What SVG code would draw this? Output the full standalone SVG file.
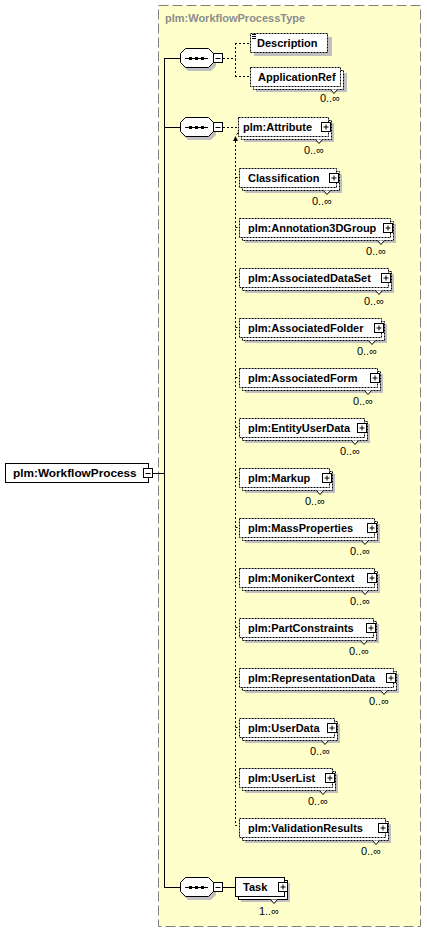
<svg xmlns="http://www.w3.org/2000/svg" width="427" height="933" viewBox="0 0 427 933">
<style>
.nm{font-family:"Liberation Sans",Arial,sans-serif;font-weight:bold;font-size:11px;fill:#000}
.ttl{font-family:"Liberation Sans",Arial,sans-serif;font-weight:bold;font-size:11px;fill:#8c8c8c}
.mu{font-family:"Liberation Sans",Arial,sans-serif;font-size:11px;fill:#000;text-anchor:end}
.sh{fill:#c0c0c0;stroke:none}
.fr{fill:#fff;stroke:#000;stroke-width:1;stroke-dasharray:2,1}
.fs{fill:#fff;stroke:#000;stroke-width:1}
.pb{fill:#fff;stroke:#000;stroke-width:1}
.ln{fill:none;stroke:#000;stroke-width:1}
.dl{fill:none;stroke:#000;stroke-width:1;stroke-dasharray:2,2}
.vn{fill:#fff;stroke:#000;stroke-width:1}
</style>
<defs>
<g id="seq">
<polygon class="sh" points="188,51 211,51 216,56 216,66 211,71 188,71 183,66 183,56"/>
<polygon class="fs" points="185.5,48.5 208.5,48.5 213.5,53.5 213.5,62.5 208.5,67.5 185.5,67.5 180.5,62.5 180.5,53.5"/>
<path class="ln" d="M185,58.5 H208"/>
<rect x="189" y="57" width="3" height="3" fill="#000"/>
<rect x="195" y="57" width="3" height="3" fill="#000"/>
<rect x="201" y="57" width="3" height="3" fill="#000"/>
<rect class="pb" x="213.5" y="53.5" width="9" height="9"/>
<path class="ln" d="M215.5,58.5 H220.5"/>
</g>
</defs>

<!-- outer type box -->
<g id="type-box">
<rect x="158.5" y="5.5" width="262" height="921" fill="#ffffcc" stroke="#808080" stroke-width="1" stroke-dasharray="10,4"/>
<text class="ttl" x="165" y="22">plm:WorkflowProcessType</text>
</g>

<!-- connectors -->
<g id="connectors">
<path class="ln" d="M153,473.5 H164.5 M164.5,58 V888 M164,58.5 H181 M164,127.5 H181 M164,887.5 H181 M223,887.5 H236"/>
<path class="dl" d="M223,58.5 H235.5 M235.5,43 V77 M235,43.5 H250 M235,76.5 H250"/>
<path class="dl" d="M223,127.5 H238"/>
<path class="dl" d="M235.5,141 V825.5 H239"/>
<path d="M235.5,136 l-2.5,5 h5 z" fill="#000"/>
<path class="ln" d="M236.5,134.5 L240,131"/>
<path d="M241,130 l-3.5,0.8 l2.7,2.7 z" fill="#000"/>
<path class="dl" d="M235.5,177.5 H239 M235.5,227.5 H239 M235.5,277.5 H239 M235.5,327.5 H239 M235.5,377.5 H239 M235.5,427.5 H239 M235.5,477.5 H239 M235.5,527.5 H239 M235.5,577.5 H239 M235.5,627.5 H239 M235.5,677.5 H239 M235.5,727.5 H239 M235.5,777.5 H239"/>
</g>

<!-- compositors -->
<g id="seq-1"><use href="#seq"/></g>
<g id="seq-2"><use href="#seq" transform="translate(0,69)"/></g>
<g id="seq-3"><use href="#seq" transform="translate(0,829)"/></g>

<!-- root element -->
<g id="n-WorkflowProcess">
<rect class="fs" x="5.5" y="463.5" width="143" height="19"/>
<text class="nm" x="13" y="477" style="font-size:11.8px">plm:WorkflowProcess</text>
<rect class="pb" x="143.5" y="468.5" width="9" height="9"/>
<path class="ln" d="M145.5,473.5 H150.5"/>
</g>

<g id="n-Description">
<rect class="sh" x="254" y="37" width="78" height="19"/>
<rect class="fr" x="250.5" y="33.5" width="77" height="19"/>
<path class="ln" d="M252,34.5 H256 M252,36.5 H256 M252,38.5 H256"/>
<text class="nm" x="257" y="47">Description</text>
</g>

<g id="n-ApplicationRef">
<rect class="sh" x="256" y="73" width="91" height="19"/>
<rect class="fr" x="253.5" y="70.5" width="90" height="19"/>
<rect class="fr" x="250.5" y="67.5" width="90" height="19"/>
<text class="nm" x="258" y="81">ApplicationRef</text>
<path class="vn" d="M330.5,89.5 l3.5,4 l3.5,-4"/>
<text class="mu" x="340" y="102">0..∞</text>
</g>

<g id="n-Attribute">
<rect class="sh" x="244" y="123" width="90" height="19"/>
<rect class="fr" x="241.5" y="120.5" width="90" height="19"/>
<rect class="fr" x="238.5" y="117.5" width="90" height="19"/>
<text class="nm" x="243" y="131">plm:Attribute</text>
<rect class="pb" x="321.5" y="122.5" width="9" height="9"/>
<path class="ln" d="M323.5,127 H328.5 M326,124.5 V129.5"/>
<path class="vn" d="M315.5,139.5 l3.5,4 l3.5,-4"/>
<text class="mu" x="324" y="154">0..∞</text>
</g>

<g id="n-Classification">
<rect class="sh" x="245" y="174" width="97" height="19"/>
<rect class="fr" x="242.5" y="171.5" width="97" height="19"/>
<rect class="fr" x="239.5" y="168.5" width="97" height="19"/>
<text class="nm" x="248" y="182">Classification</text>
<rect class="pb" x="329.5" y="173.5" width="9" height="9"/>
<path class="ln" d="M331.5,178 H336.5 M334,175.5 V180.5"/>
<path class="vn" d="M323.5,190.5 l3.5,4 l3.5,-4"/>
<text class="mu" x="332" y="205">0..∞</text>
</g>

<g id="n-Annotation3DGroup">
<rect class="sh" x="245" y="224" width="151" height="19"/>
<rect class="fr" x="242.5" y="221.5" width="151" height="19"/>
<rect class="fr" x="239.5" y="218.5" width="151" height="19"/>
<text class="nm" x="248" y="232">plm:Annotation3DGroup</text>
<rect class="pb" x="383.5" y="223.5" width="9" height="9"/>
<path class="ln" d="M385.5,228 H390.5 M388,225.5 V230.5"/>
<path class="vn" d="M377.5,240.5 l3.5,4 l3.5,-4"/>
<text class="mu" x="386" y="255">0..∞</text>
</g>

<g id="n-AssociatedDataSet">
<rect class="sh" x="245" y="274" width="149" height="19"/>
<rect class="fr" x="242.5" y="271.5" width="149" height="19"/>
<rect class="fr" x="239.5" y="268.5" width="149" height="19"/>
<text class="nm" x="248" y="282">plm:AssociatedDataSet</text>
<rect class="pb" x="381.5" y="273.5" width="9" height="9"/>
<path class="ln" d="M383.5,278 H388.5 M386,275.5 V280.5"/>
<path class="vn" d="M375.5,290.5 l3.5,4 l3.5,-4"/>
<text class="mu" x="384" y="305">0..∞</text>
</g>

<g id="n-AssociatedFolder">
<rect class="sh" x="245" y="324" width="142" height="19"/>
<rect class="fr" x="242.5" y="321.5" width="142" height="19"/>
<rect class="fr" x="239.5" y="318.5" width="142" height="19"/>
<text class="nm" x="248" y="332">plm:AssociatedFolder</text>
<rect class="pb" x="374.5" y="323.5" width="9" height="9"/>
<path class="ln" d="M376.5,328 H381.5 M379,325.5 V330.5"/>
<path class="vn" d="M368.5,340.5 l3.5,4 l3.5,-4"/>
<text class="mu" x="377" y="355">0..∞</text>
</g>

<g id="n-AssociatedForm">
<rect class="sh" x="245" y="374" width="138" height="19"/>
<rect class="fr" x="242.5" y="371.5" width="138" height="19"/>
<rect class="fr" x="239.5" y="368.5" width="138" height="19"/>
<text class="nm" x="248" y="382">plm:AssociatedForm</text>
<rect class="pb" x="370.5" y="373.5" width="9" height="9"/>
<path class="ln" d="M372.5,378 H377.5 M375,375.5 V380.5"/>
<path class="vn" d="M364.5,390.5 l3.5,4 l3.5,-4"/>
<text class="mu" x="373" y="405">0..∞</text>
</g>

<g id="n-EntityUserData">
<rect class="sh" x="245" y="424" width="125" height="19"/>
<rect class="fr" x="242.5" y="421.5" width="125" height="19"/>
<rect class="fr" x="239.5" y="418.5" width="125" height="19"/>
<text class="nm" x="248" y="432">plm:EntityUserData</text>
<rect class="pb" x="357.5" y="423.5" width="9" height="9"/>
<path class="ln" d="M359.5,428 H364.5 M362,425.5 V430.5"/>
<path class="vn" d="M351.5,440.5 l3.5,4 l3.5,-4"/>
<text class="mu" x="360" y="455">0..∞</text>
</g>

<g id="n-Markup">
<rect class="sh" x="245" y="474" width="90" height="19"/>
<rect class="fr" x="242.5" y="471.5" width="90" height="19"/>
<rect class="fr" x="239.5" y="468.5" width="90" height="19"/>
<text class="nm" x="248" y="482">plm:Markup</text>
<rect class="pb" x="322.5" y="473.5" width="9" height="9"/>
<path class="ln" d="M324.5,478 H329.5 M327,475.5 V480.5"/>
<path class="vn" d="M316.5,490.5 l3.5,4 l3.5,-4"/>
<text class="mu" x="325" y="505">0..∞</text>
</g>

<g id="n-MassProperties">
<rect class="sh" x="245" y="524" width="135" height="19"/>
<rect class="fr" x="242.5" y="521.5" width="135" height="19"/>
<rect class="fr" x="239.5" y="518.5" width="135" height="19"/>
<text class="nm" x="248" y="532">plm:MassProperties</text>
<rect class="pb" x="367.5" y="523.5" width="9" height="9"/>
<path class="ln" d="M369.5,528 H374.5 M372,525.5 V530.5"/>
<path class="vn" d="M361.5,540.5 l3.5,4 l3.5,-4"/>
<text class="mu" x="370" y="555">0..∞</text>
</g>

<g id="n-MonikerContext">
<rect class="sh" x="245" y="574" width="135" height="19"/>
<rect class="fr" x="242.5" y="571.5" width="135" height="19"/>
<rect class="fr" x="239.5" y="568.5" width="135" height="19"/>
<text class="nm" x="248" y="582">plm:MonikerContext</text>
<rect class="pb" x="367.5" y="573.5" width="9" height="9"/>
<path class="ln" d="M369.5,578 H374.5 M372,575.5 V580.5"/>
<path class="vn" d="M361.5,590.5 l3.5,4 l3.5,-4"/>
<text class="mu" x="370" y="605">0..∞</text>
</g>

<g id="n-PartConstraints">
<rect class="sh" x="245" y="624" width="134" height="19"/>
<rect class="fr" x="242.5" y="621.5" width="134" height="19"/>
<rect class="fr" x="239.5" y="618.5" width="134" height="19"/>
<text class="nm" x="248" y="632">plm:PartConstraints</text>
<rect class="pb" x="366.5" y="623.5" width="9" height="9"/>
<path class="ln" d="M368.5,628 H373.5 M371,625.5 V630.5"/>
<path class="vn" d="M360.5,640.5 l3.5,4 l3.5,-4"/>
<text class="mu" x="369" y="655">0..∞</text>
</g>

<g id="n-RepresentationData">
<rect class="sh" x="245" y="674" width="154" height="19"/>
<rect class="fr" x="242.5" y="671.5" width="154" height="19"/>
<rect class="fr" x="239.5" y="668.5" width="154" height="19"/>
<text class="nm" x="248" y="682">plm:RepresentationData</text>
<rect class="pb" x="386.5" y="673.5" width="9" height="9"/>
<path class="ln" d="M388.5,678 H393.5 M391,675.5 V680.5"/>
<path class="vn" d="M380.5,690.5 l3.5,4 l3.5,-4"/>
<text class="mu" x="389" y="705">0..∞</text>
</g>

<g id="n-UserData">
<rect class="sh" x="245" y="724" width="95" height="19"/>
<rect class="fr" x="242.5" y="721.5" width="95" height="19"/>
<rect class="fr" x="239.5" y="718.5" width="95" height="19"/>
<text class="nm" x="248" y="732">plm:UserData</text>
<rect class="pb" x="327.5" y="723.5" width="9" height="9"/>
<path class="ln" d="M329.5,728 H334.5 M332,725.5 V730.5"/>
<path class="vn" d="M321.5,740.5 l3.5,4 l3.5,-4"/>
<text class="mu" x="330" y="755">0..∞</text>
</g>

<g id="n-UserList">
<rect class="sh" x="245" y="774" width="93" height="19"/>
<rect class="fr" x="242.5" y="771.5" width="93" height="19"/>
<rect class="fr" x="239.5" y="768.5" width="93" height="19"/>
<text class="nm" x="248" y="782">plm:UserList</text>
<rect class="pb" x="325.5" y="773.5" width="9" height="9"/>
<path class="ln" d="M327.5,778 H332.5 M330,775.5 V780.5"/>
<path class="vn" d="M319.5,790.5 l3.5,4 l3.5,-4"/>
<text class="mu" x="328" y="805">0..∞</text>
</g>

<g id="n-ValidationResults">
<rect class="sh" x="245" y="824" width="146" height="19"/>
<rect class="fr" x="242.5" y="821.5" width="146" height="19"/>
<rect class="fr" x="239.5" y="818.5" width="146" height="19"/>
<text class="nm" x="248" y="832">plm:ValidationResults</text>
<rect class="pb" x="378.5" y="823.5" width="9" height="9"/>
<path class="ln" d="M380.5,828 H385.5 M383,825.5 V830.5"/>
<path class="vn" d="M372.5,840.5 l3.5,4 l3.5,-4"/>
<text class="mu" x="381" y="855">0..∞</text>
</g>

<g id="n-Task">
<rect class="sh" x="241" y="883" width="49" height="19"/>
<rect class="fs" x="238.5" y="880.5" width="49" height="19"/>
<rect class="fs" x="235.5" y="877.5" width="49" height="19"/>
<text class="nm" x="243" y="891">Task</text>
<rect class="pb" x="278.5" y="882.5" width="9" height="9"/>
<path class="ln" d="M280.5,887 H285.5 M283,884.5 V889.5"/>
<path class="vn" d="M270.5,899.5 l3.5,4 l3.5,-4"/>
<text class="mu" x="279" y="915">1..∞</text>
</g>
</svg>
